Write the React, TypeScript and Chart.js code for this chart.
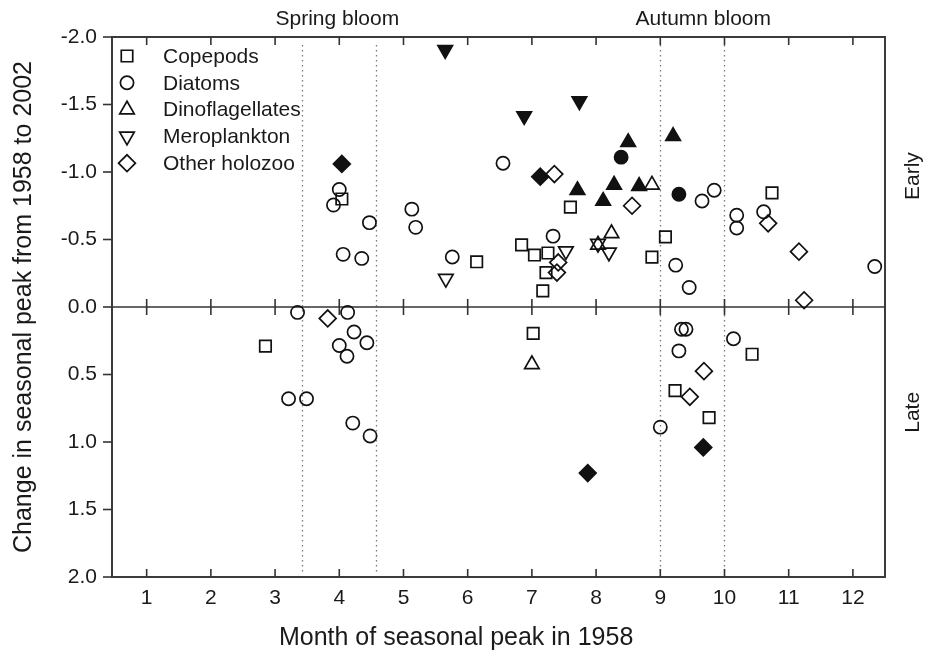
import React, { useEffect, useRef } from 'react';
import { Chart, registerables } from 'chart.js';
import { drawPoint } from 'chart.js/helpers';

Chart.register(...registerables);

// ---------- data ----------
const xTickValues = [1, 2, 3, 4, 5, 6, 7, 8, 9, 10, 11, 12];
const yTickValues = [-2, -1.5, -1, -0.5, 0, 0.5, 1, 1.5, 2];
const bloomLines = [3.42, 4.57, 9.0, 10.0];
const bloomLabels = ['Spring bloom', 'Autumn bloom'];
const bloomLabelX = [3.97, 9.67];
const sideLabels = ['Early', 'Late'];
const sideLabelY = [-0.97, 0.78];
const xTitle = 'Month of seasonal peak in 1958';
const yTitle = 'Change in seasonal peak from 1958 to 2002';
const xTitleAt = 5.82;
const categories = ['Copepods', 'Diatoms', 'Dinoflagellates', 'Meroplankton', 'Other holozoo'];

const copepodsOpen: [number, number][] = [
  [4.04, -0.8], [7.6, -0.74], [6.84, -0.46], [7.04, -0.385], [7.25, -0.4], [7.22, -0.255],
  [7.17, -0.12], [6.14, -0.335], [9.08, -0.52], [8.87, -0.37], [10.74, -0.845],
  [2.85, 0.29], [7.02, 0.195], [10.43, 0.35], [9.23, 0.62], [9.76, 0.82],
];
const diatomsOpen: [number, number][] = [
  [4.0, -0.87], [3.91, -0.755], [4.47, -0.625], [4.06, -0.39], [4.35, -0.36], [5.13, -0.725],
  [5.19, -0.59], [6.55, -1.065], [7.33, -0.525], [5.76, -0.37], [9.65, -0.785], [9.84, -0.865],
  [9.24, -0.31], [9.45, -0.145], [10.19, -0.68], [10.19, -0.585], [10.61, -0.705], [12.34, -0.3],
  [3.35, 0.04], [4.13, 0.04], [4.23, 0.185], [4.43, 0.265], [4.0, 0.285], [4.12, 0.365],
  [3.21, 0.68], [3.49, 0.68], [4.21, 0.86], [4.48, 0.955], [9.33, 0.165], [9.4, 0.165],
  [9.29, 0.325], [10.14, 0.235], [9.0, 0.89],
];
const diatomsFilled: [number, number][] = [[8.39, -1.11], [9.29, -0.835]];
const dinoOpen: [number, number][] = [[8.87, -0.905], [8.24, -0.545], [8.03, -0.46], [7.0, 0.425]];
const dinoFilled: [number, number][] = [
  [8.5, -1.22], [9.2, -1.265], [7.71, -0.865], [8.28, -0.905], [8.11, -0.785], [8.67, -0.895],
];
const meroOpen: [number, number][] = [[5.66, -0.21], [7.53, -0.415], [8.2, -0.405], [8.03, -0.47]];
const meroFilled: [number, number][] = [[5.65, -1.905], [6.88, -1.415], [7.74, -1.525]];
const holozooOpen: [number, number][] = [
  [7.35, -0.985], [8.56, -0.75], [7.41, -0.33], [7.39, -0.255], [10.68, -0.62], [11.16, -0.41],
  [11.24, -0.05], [3.82, 0.085], [9.68, 0.475], [9.46, 0.665],
];
const holozooFilled: [number, number][] = [[4.04, -1.06], [7.13, -0.965], [7.87, 1.23], [9.67, 1.04]];

// ---------- styles ----------
const FONT = '"Liberation Sans", Arial, Helvetica, sans-serif';
const INK = '#1a1a1a';
const LINE = '#333333';
const BW = 1.7;
const styles = [
  { pointStyle: 'rect', rotation: 0, radius: 8.1 },
  { pointStyle: 'circle', rotation: 0, radius: 6.6 },
  { pointStyle: 'triangle', rotation: 0, radius: 8.4 },
  { pointStyle: 'triangle', rotation: 180, radius: 8.4 },
  { pointStyle: 'rectRot', rotation: 0, radius: 8.4 },
];

function makeSet(label: string, pts: [number, number][], styleIdx: number, filled: boolean) {
  const s = styles[styleIdx];
  return {
    label,
    data: pts.map(([x, y]) => ({ x, y })),
    pointStyle: s.pointStyle,
    pointRotation: s.rotation,
    pointRadius: s.radius,
    pointHoverRadius: s.radius,
    pointBorderWidth: BW,
    pointBorderColor: '#111',
    pointBackgroundColor: filled ? '#111' : 'rgba(0,0,0,0)',
    showLine: false,
  };
}

const overlayPlugin = {
  id: 'overlay',
  beforeDatasetsDraw(chart: any) {
    const { ctx, chartArea: a, scales } = chart;
    const x = scales.x;
    const y = scales.y;
    const line = (x1: number, y1: number, x2: number, y2: number) => {
      ctx.beginPath();
      ctx.moveTo(x1, y1);
      ctx.lineTo(x2, y2);
      ctx.stroke();
    };
    ctx.save();
    // dotted bloom lines
    ctx.strokeStyle = '#7a7a7a';
    ctx.lineWidth = 1.3;
    ctx.setLineDash([1.5, 3.5]);
    bloomLines.forEach((v) => {
      const px = Math.round(x.getPixelForValue(v)) + 0.5;
      line(px, a.top + 8, px, a.bottom - 4);
    });
    ctx.setLineDash([]);
    // zero line
    const y0 = y.getPixelForValue(0);
    ctx.strokeStyle = LINE;
    ctx.lineWidth = 1.6;
    line(a.left, y0, a.right, y0);
    // x ticks: inward at top/bottom, crossing at zero
    xTickValues.forEach((v) => {
      const px = x.getPixelForValue(v);
      line(px, a.top, px, a.top + 8);
      line(px, a.bottom, px, a.bottom - 8);
      line(px, y0 - 8, px, y0 + 8);
    });
    // y ticks outward
    yTickValues.forEach((v) => {
      const py = y.getPixelForValue(v);
      line(a.left - 9, py, a.left, py);
    });
    // frame
    ctx.lineWidth = 1.9;
    ctx.strokeRect(a.left, a.top, a.right - a.left, a.bottom - a.top);
    ctx.restore();
  },
  afterDraw(chart: any) {
    const { ctx, chartArea: a, scales } = chart;
    const x = scales.x;
    const y = scales.y;
    ctx.save();
    ctx.fillStyle = INK;
    // bloom labels
    ctx.font = `21px ${FONT}`;
    ctx.textAlign = 'center';
    ctx.textBaseline = 'alphabetic';
    bloomLabels.forEach((t, i) => ctx.fillText(t, x.getPixelForValue(bloomLabelX[i]), 25));
    // side labels
    sideLabels.forEach((t, i) => {
      ctx.save();
      ctx.translate(a.right + 34, y.getPixelForValue(sideLabelY[i]));
      ctx.rotate(-Math.PI / 2);
      ctx.textAlign = 'center';
      ctx.textBaseline = 'alphabetic';
      ctx.fillText(t, 0, 0);
      ctx.restore();
    });
    // axis titles
    ctx.font = `25px ${FONT}`;
    ctx.textAlign = 'center';
    ctx.fillText(xTitle, x.getPixelForValue(xTitleAt), 645);
    ctx.save();
    ctx.translate(31, (a.top + a.bottom) / 2);
    ctx.rotate(-Math.PI / 2);
    ctx.fillText(yTitle, 0, 0);
    ctx.restore();
    // legend
    ctx.font = `21px ${FONT}`;
    ctx.textAlign = 'left';
    ctx.textBaseline = 'middle';
    categories.forEach((c, i) => {
      const s = styles[i];
      const ly = a.top + 19 + i * 26.8;
      ctx.strokeStyle = '#111';
      ctx.fillStyle = 'rgba(0,0,0,0)';
      ctx.lineWidth = BW;
      drawPoint(ctx, { pointStyle: s.pointStyle, rotation: s.rotation, radius: s.radius, borderWidth: BW } as any, a.left + 15, ly);
      ctx.fillStyle = INK;
      ctx.fillText(c, a.left + 51, ly + 1);
    });
    ctx.restore();
  },
};

export default function App() {
  const ref = useRef<HTMLCanvasElement | null>(null);
  useEffect(() => {
    if (!ref.current) return;
    const tickFont = { family: FONT, size: 21 };
    const chart = new Chart(ref.current, {
      type: 'scatter',
      data: {
        datasets: [
          makeSet('Copepods', copepodsOpen, 0, false),
          makeSet('Diatoms', diatomsOpen, 1, false),
          makeSet('Diatoms (sig.)', diatomsFilled, 1, true),
          makeSet('Dinoflagellates', dinoOpen, 2, false),
          makeSet('Dinoflagellates (sig.)', dinoFilled, 2, true),
          makeSet('Meroplankton', meroOpen, 3, false),
          makeSet('Meroplankton (sig.)', meroFilled, 3, true),
          makeSet('Other holozoo', holozooOpen, 4, false),
          makeSet('Other holozoo (sig.)', holozooFilled, 4, true),
        ] as any,
      },
      options: {
        animation: false,
        responsive: false,
        events: [],
        layout: { padding: { top: 37, right: 40, left: 0, bottom: 0 } },
        plugins: { legend: { display: false }, tooltip: { enabled: false } },
        scales: {
          x: {
            type: 'linear',
            position: 'bottom',
            min: 0.46,
            max: 12.5,
            afterBuildTicks: (s: any) => {
              s.ticks = xTickValues.map((v) => ({ value: v }));
            },
            afterFit: (s: any) => {
              s.height = 78;
            },
            grid: { display: false, drawTicks: false },
            border: { display: false },
            ticks: {
              padding: 9,
              font: tickFont,
              color: INK,
              maxRotation: 0,
              autoSkip: false,
              callback: (v: any) => String(v),
            },
          },
          y: {
            type: 'linear',
            min: -2,
            max: 2,
            reverse: true,
            afterBuildTicks: (s: any) => {
              s.ticks = yTickValues.map((v) => ({ value: v }));
            },
            afterFit: (s: any) => {
              s.width = 112;
            },
            grid: { display: false, drawTicks: false },
            border: { display: false },
            ticks: {
              padding: 15,
              font: tickFont,
              color: INK,
              autoSkip: false,
              callback: (v: any) => Number(v).toFixed(1),
            },
          },
        },
      } as any,
      plugins: [overlayPlugin],
    });
    return () => chart.destroy();
  }, []);
  return (
    <div style={{ position: 'fixed', left: 0, top: 0, width: 925, height: 655, background: '#fff' }}>
      <canvas ref={ref} width={925} height={655} style={{ display: 'block', width: 925, height: 655 }} />
    </div>
  );
}
